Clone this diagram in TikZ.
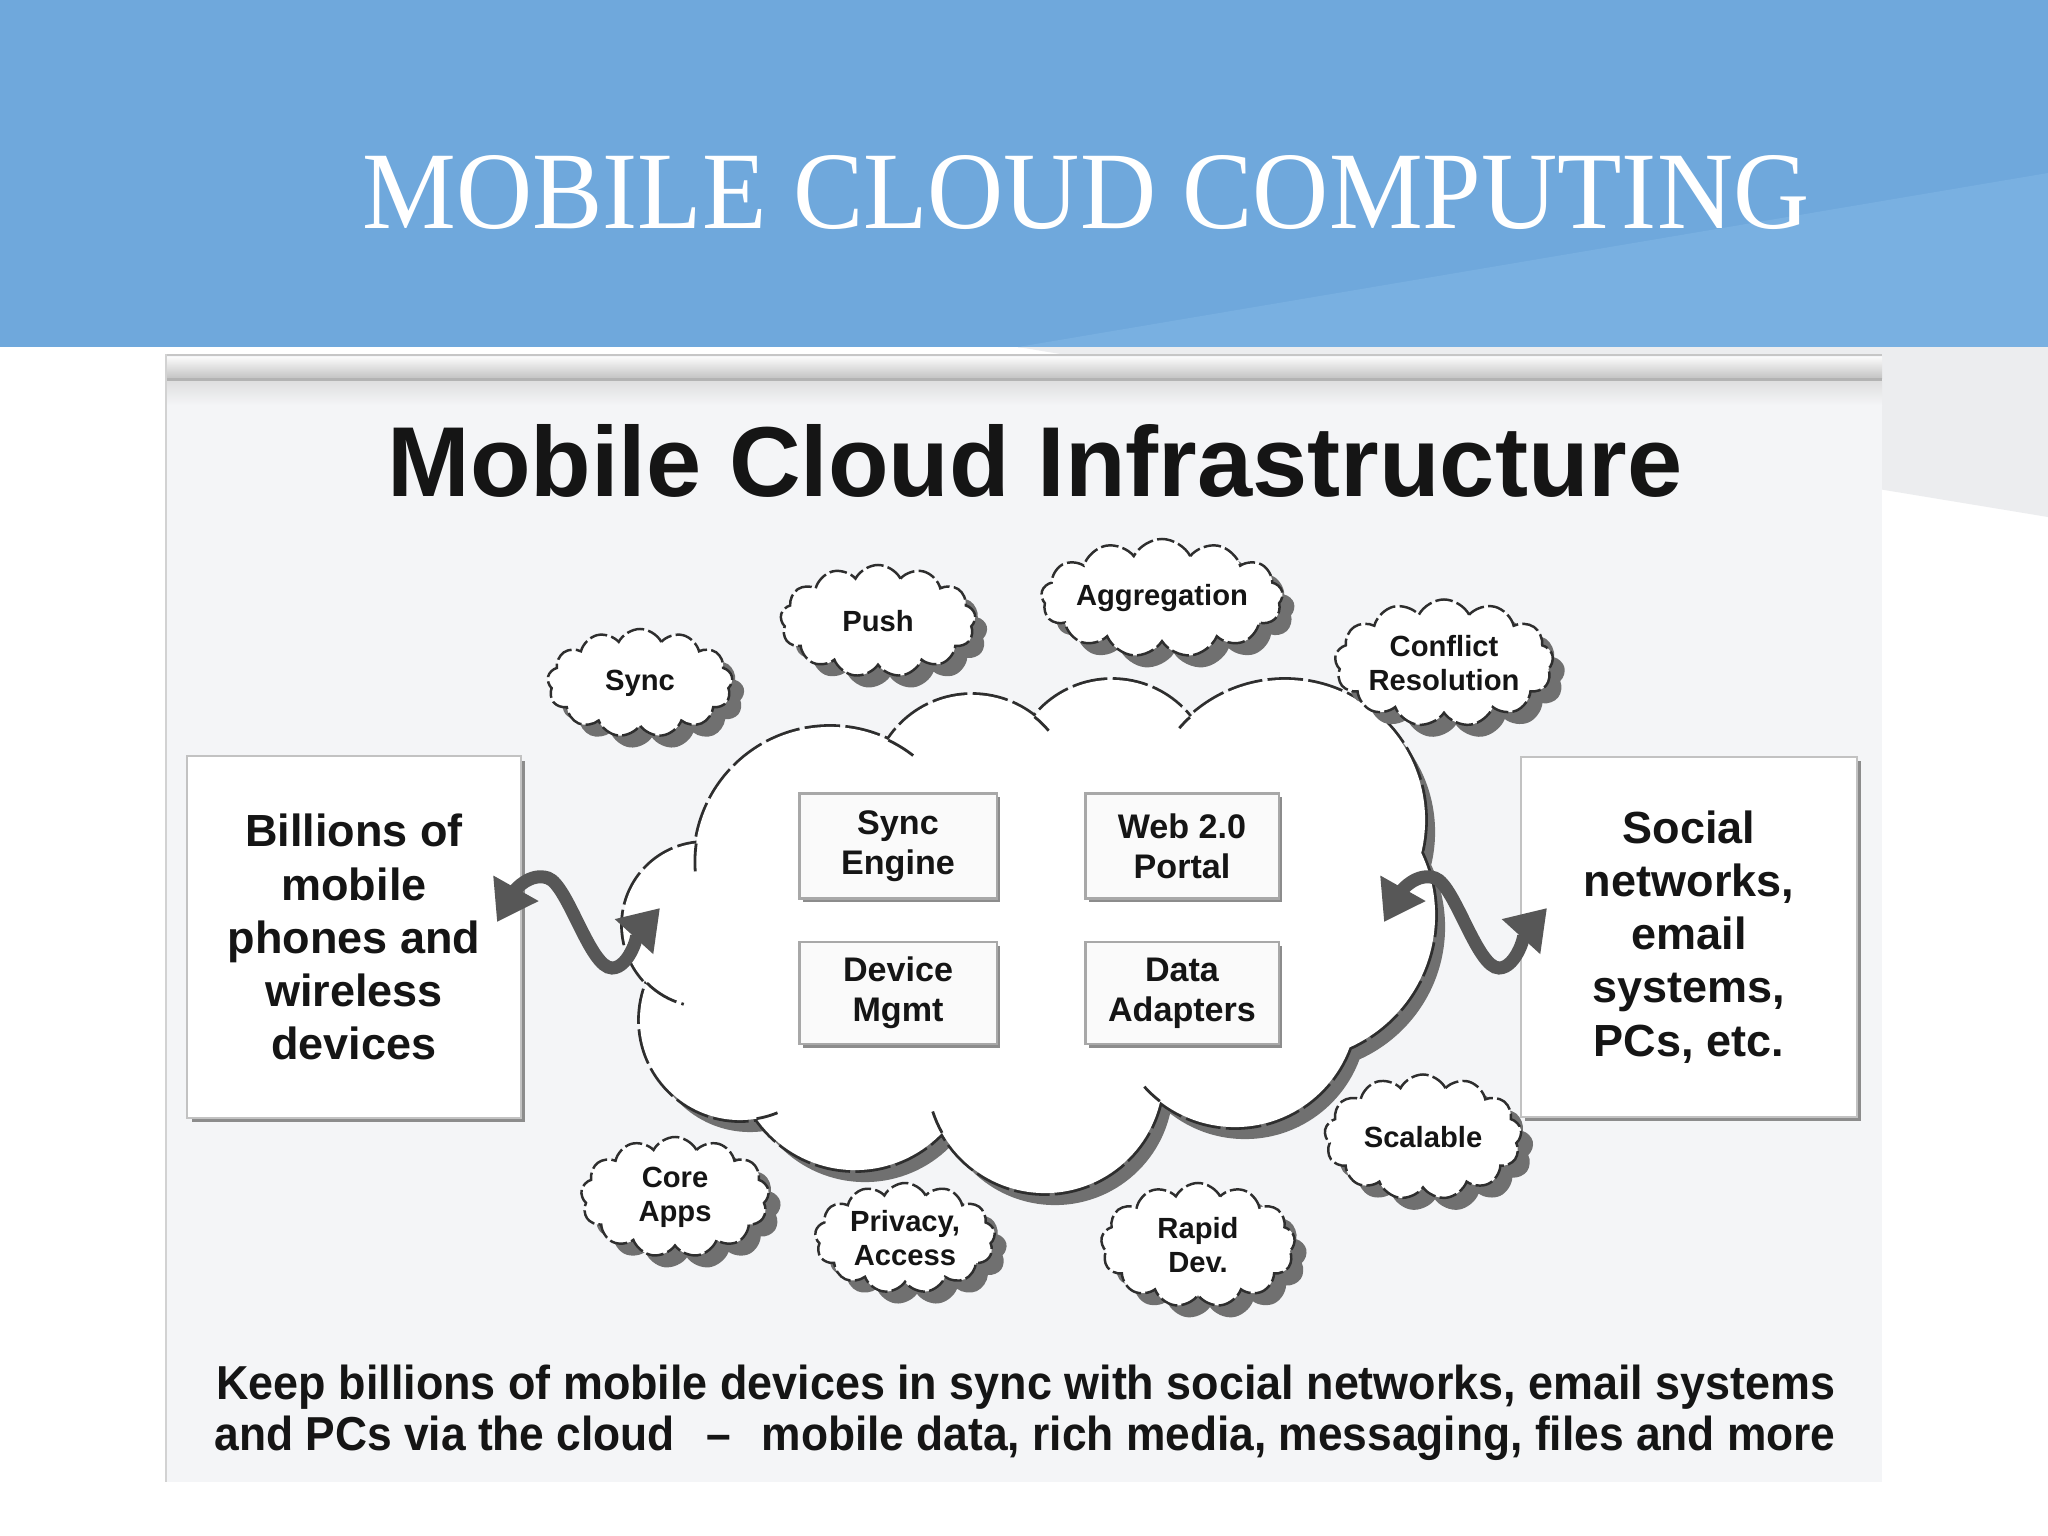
\documentclass[tikz,border=0pt]{standalone}
\usepackage{graphicx}
\usepackage{fontspec}
\setmainfont{Liberation Serif}
\newfontfamily\sansb{Liberation Sans}
\usetikzlibrary{shapes.symbols,shadows,arrows.meta}
\definecolor{banner}{HTML}{6FA8DC}
\definecolor{bannerlight}{HTML}{79B0E1}
\definecolor{wedge}{HTML}{ECEDEF}
\definecolor{panelbg}{HTML}{F4F5F7}
\definecolor{rodlight}{HTML}{FAFAFA}
\definecolor{roddark}{HTML}{C4C4C4}
\definecolor{rodline}{HTML}{B3B3B3}
\definecolor{textdark}{HTML}{151515}
\definecolor{cloudline}{HTML}{2E2E2E}
\definecolor{cloudshadow}{HTML}{707070}
\definecolor{boxborder}{HTML}{C2C2C2}
\definecolor{boxshadow}{HTML}{8C8C8C}
\definecolor{innerborder}{HTML}{A8A8A8}
\definecolor{innerfill}{HTML}{FAFAFA}
\definecolor{arrowgray}{HTML}{575757}
\newcommand{\mcircles}{(830,862) circle[radius=1.35cm] (972,795) circle[radius=1.00cm] (1112,780) circle[radius=1.00cm] (1285,820) circle[radius=1.40cm] (1290,915) circle[radius=1.45cm] (1235,1005) circle[radius=1.22cm] (1045,1075) circle[radius=1.18cm] (855,1050) circle[radius=1.20cm] (740,1020) circle[radius=1.00cm] (705,925) circle[radius=0.82cm]}
\newcommand{\mpoly}{(830,862) -- (972,795) -- (1112,780) -- (1285,820) -- (1290,915) -- (1235,1005) -- (1045,1075) -- (855,1050) -- (740,1020) -- (705,925) -- cycle}
\begin{document}
\begin{tikzpicture}[x=0.01cm,y=-0.01cm,
  sidebox/.style={draw=boxborder, line width=0.6pt, fill=white,
    drop shadow={shadow xshift=1.2pt, shadow yshift=-1.2pt, fill=boxshadow, opacity=1},
    inner sep=0pt, align=center, text=textdark,
    font=\sansb\bfseries\fontsize{12.8pt}{15.1pt}\selectfont},
  innerbox/.style={draw=innerborder, line width=0.6pt, fill=innerfill,
    drop shadow={shadow xshift=1.1pt, shadow yshift=-1.1pt, fill=boxshadow, opacity=1},
    inner sep=0pt, align=center, text=textdark,
    font=\sansb\bfseries\fontsize{9.7pt}{11.4pt}\selectfont},
  puff/.style={cloud, cloud puffs=13, cloud puff arc=125, cloud ignores aspect,
    draw=cloudline, line width=0.7pt, dash pattern=on 5pt off 1.2pt, fill=white,
    drop shadow={shadow xshift=3.4pt, shadow yshift=-3.4pt, fill=cloudshadow, opacity=1},
    inner sep=0pt, align=center, text=textdark,
    font=\sansb\bfseries\fontsize{8.3pt}{9.7pt}\selectfont},
  wave/.style={draw=arrowgray, line width=3.7pt,
    {Triangle[length=11pt,width=14pt]}-{Triangle[length=11pt,width=14pt]}},
  stub/.style={draw=cloudline, line width=0.8pt, dash pattern=on 10pt off 1.5pt},
]
\useasboundingbox (0,0) rectangle (2048,1536);
\fill[white] (0,0) rectangle (2048,1536);
% banner
\fill[banner] (0,0) rectangle (2048,347);
\fill[bannerlight] (1018,347) -- (2048,173) -- (2048,347) -- cycle;
\fill[wedge] (1018,347) -- (2048,347) -- (2048,517) -- cycle;
\node[anchor=base, inner sep=0pt, text=white] (title) at (1086,228)
  {\resizebox{14.46cm}{0.73cm}{MOBILE CLOUD COMPUTING}};
% panel
\fill[panelbg] (165,354) rectangle (1882,1482);
\shade[top color=rodlight, bottom color=roddark] (165,357) rectangle (1882,378);
\fill[rodline] (165,378) rectangle (1882,381);
\shade[top color=roddark!55!white, bottom color=panelbg] (165,381) rectangle (1882,405);
\draw[gray!45, line width=0.6pt] (165,355) -- (1882,355);
\draw[gray!35, line width=0.7pt] (166,354) -- (166,1482);
\node[anchor=base, inner sep=0pt, text=textdark] (dtitle) at (1035,496)
  {\resizebox{12.94cm}{0.72cm}{\sansb\bfseries Mobile Cloud Infrastructure}};
% big cloud
\fill[cloudshadow, shift={(10,12)}] \mcircles;
\fill[cloudshadow, shift={(10,12)}] \mpoly;
\draw[cloudline, line width=1.6pt, dash pattern=on 10pt off 1.5pt] \mcircles;
\fill[white] \mcircles;
\fill[white] \mpoly;
% inner arc stubs of the big cloud
\draw[stub] (830,862) ++(64.4:1.35cm) arc[start angle=64.4, end angle=52, radius=1.35cm];
\draw[stub] (972,795) ++(51.4:1.00cm) arc[start angle=51.4, end angle=40, radius=1.00cm];
\draw[stub] (1285,820) ++(132.8:1.40cm) arc[start angle=132.8, end angle=139, radius=1.40cm];
\draw[stub] (1045,1075) ++(209.3:1.18cm) arc[start angle=209.3, end angle=198, radius=1.18cm];
\draw[stub] (1235,1005) ++(232:1.22cm) arc[start angle=232, end angle=222, radius=1.22cm];
\draw[stub] (740,1020) ++(279.5:1.00cm) arc[start angle=279.5, end angle=292, radius=1.00cm];
\draw[stub] (705,925) ++(225:0.82cm) arc[start angle=225, end angle=255, radius=0.82cm];
\draw[stub] (830,862) ++(172.1:1.35cm) arc[start angle=172.1, end angle=184, radius=1.35cm];
% inner boxes
\node[innerbox, minimum width=1.97cm, minimum height=1.05cm] (sync) at (898,846) {Sync\\Engine};
\node[innerbox, minimum width=1.93cm, minimum height=1.05cm] (web) at (1182,846) {Web 2.0\\Portal};
\node[innerbox, minimum width=1.97cm, minimum height=1.02cm] (dev) at (898,993) {Device\\Mgmt};
\node[innerbox, minimum width=1.93cm, minimum height=1.02cm] (data) at (1182,993) {Data\\Adapters};
% small clouds
\node[puff, minimum width=1.85cm, minimum height=1.08cm] (csync) at (640,683) {Sync};
\node[puff, minimum width=1.95cm, minimum height=1.12cm] (cpush) at (878,621) {Push};
\node[puff, minimum width=2.10cm, minimum height=1.18cm] (cagg) at (1162,598) {Aggregation};
\node[puff, minimum width=2.18cm, minimum height=1.27cm] (cconf) at (1444,663) {Conflict\\Resolution};
\node[puff, minimum width=1.97cm, minimum height=1.25cm] (cscal) at (1423,1137) {Scalable};
\node[puff, minimum width=1.94cm, minimum height=1.24cm] (crapid) at (1198,1245) {Rapid\\Dev.};
\node[puff, minimum width=1.80cm, minimum height=1.10cm] (cpriv) at (905,1238) {Privacy,\\Access};
\node[puff, minimum width=1.88cm, minimum height=1.20cm] (ccore) at (675,1197) {Core\\Apps};
% side boxes
\node[sidebox, minimum width=3.33cm, minimum height=3.61cm] (left) at (354,937)
  {Billions of\\mobile\\phones and\\wireless\\devices};
\node[sidebox, minimum width=3.36cm, minimum height=3.60cm] (right) at (1689,937)
  {Social\\networks,\\email\\systems,\\PCs, etc.};
% wavy arrows
\coordinate (la) at (497,922);
\coordinate (lb) at (660,908);
\coordinate (ra) at (1384,922);
\coordinate (rb) at (1547,908);
\draw[wave] (la) .. controls (515,890) and (530,872) .. (548,878)
  .. controls (568,885) and (590,968) .. (612,968)
  .. controls (630,968) and (640,930) .. (lb);
\draw[wave] (ra) .. controls (1402,890) and (1417,872) .. (1435,878)
  .. controls (1455,885) and (1477,968) .. (1499,968)
  .. controls (1517,968) and (1527,930) .. (rb);
% caption
\node[anchor=base, inner sep=0pt, text=textdark] (cap1) at (1026,1399)
  {\resizebox{16.18cm}{0.345cm}{\sansb\bfseries Keep billions of mobile devices in sync with social networks, email systems}};
\node[anchor=base, inner sep=0pt, text=textdark] (cap2) at (1025,1450)
  {\resizebox{16.2cm}{0.345cm}{\sansb\bfseries and PCs via the cloud\hspace{0.7em}–\hspace{0.7em}mobile data, rich media, messaging, files and more}};
\end{tikzpicture}
\end{document}
